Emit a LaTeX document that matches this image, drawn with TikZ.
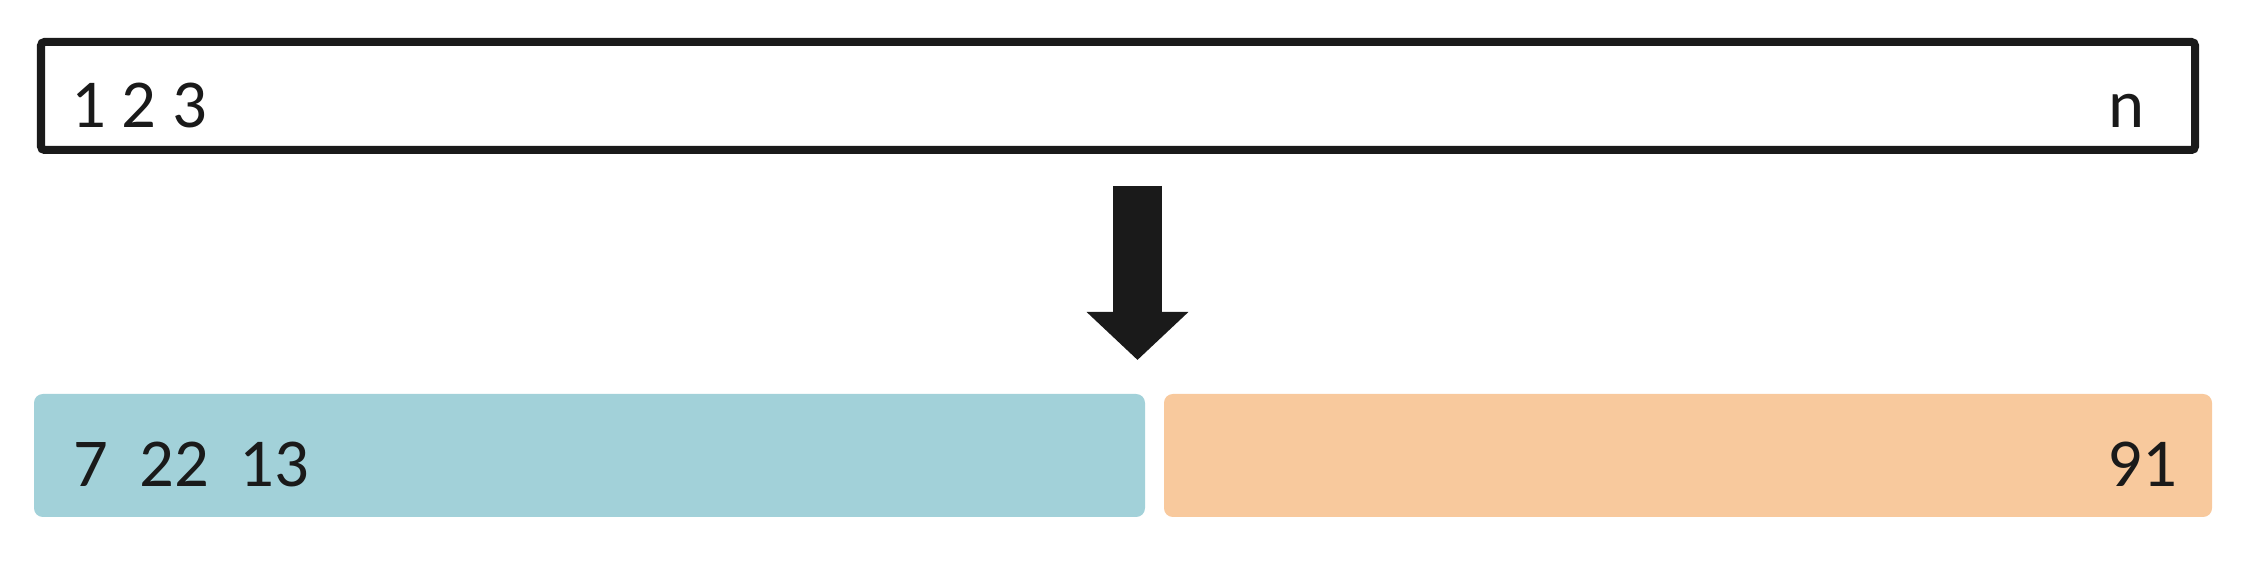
\documentclass[tikz,border=0pt]{standalone}
\usepackage{fontspec}
\setmainfont{Carlito}
\usetikzlibrary{arrows.meta}
\definecolor{ink}{HTML}{1A1A1A}
\definecolor{leftpart}{HTML}{A2D1D9}
\definecolor{rightpart}{HTML}{F8C99D}

\begin{document}
\begin{tikzpicture}[x=0.01cm, y=-0.01cm,
    every node/.style={inner sep=0pt, text=ink, font=\fontsize{19.5}{23}\selectfont}]
            % Canvas
            \useasboundingbox (0,0) rectangle (2250,564);

            % Draw input array
            \draw[ink, line width=0.08cm, rounded corners=1pt] (41,42) rectangle (2195,150);
            \node[anchor=base west] (first) at (71,128) {1 2 3};
            \node[anchor=base east] (last) at (2145,128) {n};

            % Draw split arrow
            \coordinate (from) at (1137.5,186);
            \coordinate (to) at (1137.5,360);
            \draw[ink, line width=0.49cm, -{Triangle[length=0.48cm, width=0.99cm]}] (from) -- (to);

            % Draw the two parts
            \fill[leftpart, rounded corners=2.5pt] (34,394) rectangle (1145,517);
            \fill[rightpart, rounded corners=2.5pt] (1164,394) rectangle (2212,517);
            \node[anchor=base west] (small) at (73,486) {7\ \ 22\ \ 13};
            \node[anchor=base east] (big) at (2178,486) {91};
        \end{tikzpicture}
\end{document}
